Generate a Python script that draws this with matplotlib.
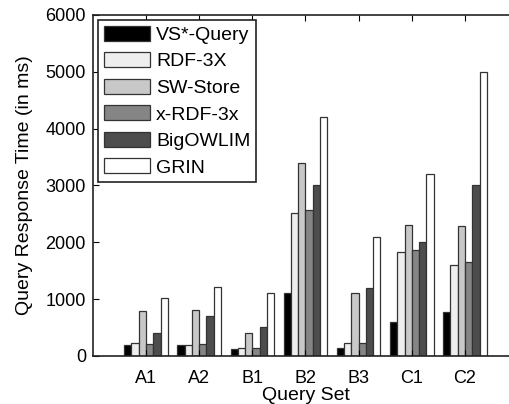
import matplotlib.pyplot as plt
import numpy as np

plt.rcParams["font.family"] = ["Liberation Sans", "DejaVu Sans"]

query_sets = ["A1", "A2", "B1", "B2", "B3", "C1", "C2"]
systems = ["VS*-Query", "RDF-3X", "SW-Store", "x-RDF-3x", "BigOWLIM", "GRIN"]

vs_query = [195, 195, 115, 1105, 135, 605, 780]
rdf_3x = [220, 195, 135, 2510, 225, 1820, 1600]
sw_store = [795, 810, 410, 3400, 1105, 2305, 2295]
x_rdf_3x = [205, 205, 135, 2560, 225, 1865, 1650]
big_owlim = [410, 710, 515, 3010, 1200, 2010, 3010]
grin = [1015, 1205, 1100, 4200, 2100, 3205, 5000]

colors = ["#000000", "#eeeeee", "#c8c8c8", "#858585", "#4d4d4d", "#ffffff"]

series = [vs_query, rdf_3x, sw_store, x_rdf_3x, big_owlim, grin]

fig = plt.figure(figsize=(5.10, 4.04), dpi=100)
ax = fig.add_axes([0.182, 0.119, 0.834, 0.844])

x = np.arange(1, len(query_sets) + 1)
n = len(series)
group_w = 0.82
w = group_w / n
for i, (vals, col, name) in enumerate(zip(series, colors, systems)):
    offs = (i - (n - 1) / 2) * w
    ax.bar(x + offs, vals, width=w, color=col, edgecolor="#333333",
           linewidth=0.9, label=name)

ax.set_xlim(0, 8)
ax.set_ylim(0, 6000)
ax.set_xticks(x)
ax.set_xticklabels(query_sets)
ax.set_yticks(range(0, 6001, 1000))
ax.tick_params(direction="in", top=True, right=True, labelsize=13,
               length=4)
ax.tick_params(axis="x", pad=10)
ax.tick_params(axis="y", pad=5)
for s in ax.spines.values():
    s.set_linewidth(1.2)
    s.set_color("#222222")

ax.set_xlabel("Query Set", fontsize=14, labelpad=0)
ax.set_ylabel("Query Response Time (in ms)", fontsize=14, labelpad=9)

leg = ax.legend(loc="upper left", fontsize=14, handlelength=2.4,
                handleheight=0.8, handletextpad=0.3, labelspacing=0.43,
                borderpad=0.3, borderaxespad=0.25, fancybox=False,
                framealpha=1, edgecolor="#222222")
leg.get_frame().set_linewidth(1.2)

fig.savefig("out.png", dpi=100)
